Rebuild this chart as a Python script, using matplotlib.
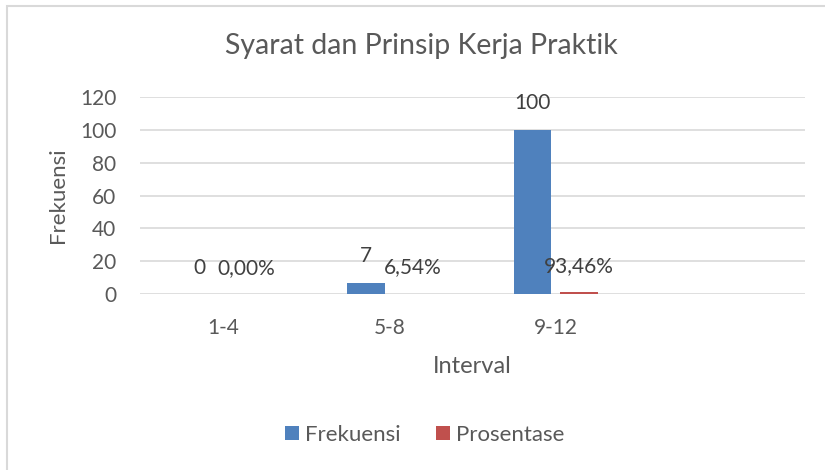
import matplotlib
matplotlib.use('Agg')
import matplotlib.pyplot as plt
from matplotlib.patches import Rectangle
import numpy as np

categories = ['1-4', '5-8', '9-12', '']
frekuensi = [0, 7, 100, None]
prosentase = [0.0, 0.0654, 0.9346, None]
frek_labels = ['0', '7', '100']
pros_labels = ['0,00%', '6,54%', '93,46%']

COLOR_FREK = '#4F81BD'
COLOR_PROS = '#C0504D'
TEXT_COLOR = '#595959'
GRID_COLOR = '#D9D9D9'

plt.rcParams['font.family'] = ['Lato', 'DejaVu Sans']

fig = plt.figure(figsize=(8.25, 4.7), dpi=100)
ax = fig.add_axes([140 / 825, 1 - 294 / 470, 665 / 825, 197 / 470])

x = np.arange(len(categories))
width = 0.225
offset = 0.14
n = 3
p_frek = ax.bar(x[:n] - offset, frekuensi[:n], width, color=COLOR_FREK)
p_pros = ax.bar(x[:n] + offset, prosentase[:n], width, color=COLOR_PROS)

# data labels, about 26px above each bar top
for i in range(n):
    ax.annotate(frek_labels[i], (x[i] - offset, frekuensi[i]), xytext=(0, 19), textcoords='offset points',
                ha='center', va='center', fontsize=15, color='#404040')
    ax.annotate(pros_labels[i], (x[i] + offset, prosentase[i]), xytext=(0, 19), textcoords='offset points',
                ha='center', va='center', fontsize=15, color='#404040')

ax.set_xlim(-0.5, len(categories) - 0.5)
ax.set_ylim(0, 120)
ax.set_yticks(np.arange(0, 121, 20))
ax.set_xticks(x[:n])
ax.set_xticklabels(categories[:n])

ax.grid(axis='y', color=GRID_COLOR, linewidth=1.2)
ax.set_axisbelow(True)
for s in ax.spines.values():
    s.set_visible(False)
ax.tick_params(axis='both', length=0, labelsize=15, colors=TEXT_COLOR)
ax.tick_params(axis='x', pad=17)
ax.tick_params(axis='y', pad=17)

ax.set_ylabel('Frekuensi', fontsize=16, color=TEXT_COLOR, labelpad=9)
ax.set_xlabel('Interval', fontsize=17, color=TEXT_COLOR, labelpad=13)

fig.text(421 / 825, 1 - 46 / 470, 'Syarat dan Prinsip Kerja Praktik', ha='center', va='center',
         fontsize=20.5, color=TEXT_COLOR)

fig.legend((p_frek[0], p_pros[0]), ('Frekuensi', 'Prosentase'), loc='center', bbox_to_anchor=(425 / 825, 1 - 435 / 470),
           ncol=2, frameon=False, fontsize=16, labelcolor=TEXT_COLOR, handlelength=0.6, handleheight=0.6,
           handletextpad=0.3, columnspacing=1.6)

fig.patches.append(Rectangle((7 / 825, -0.1), 1.2, 1 - 6 / 470 + 0.1, transform=fig.transFigure,
                             fill=False, edgecolor=GRID_COLOR, linewidth=1.5))

fig.savefig('out.png', dpi=100)
